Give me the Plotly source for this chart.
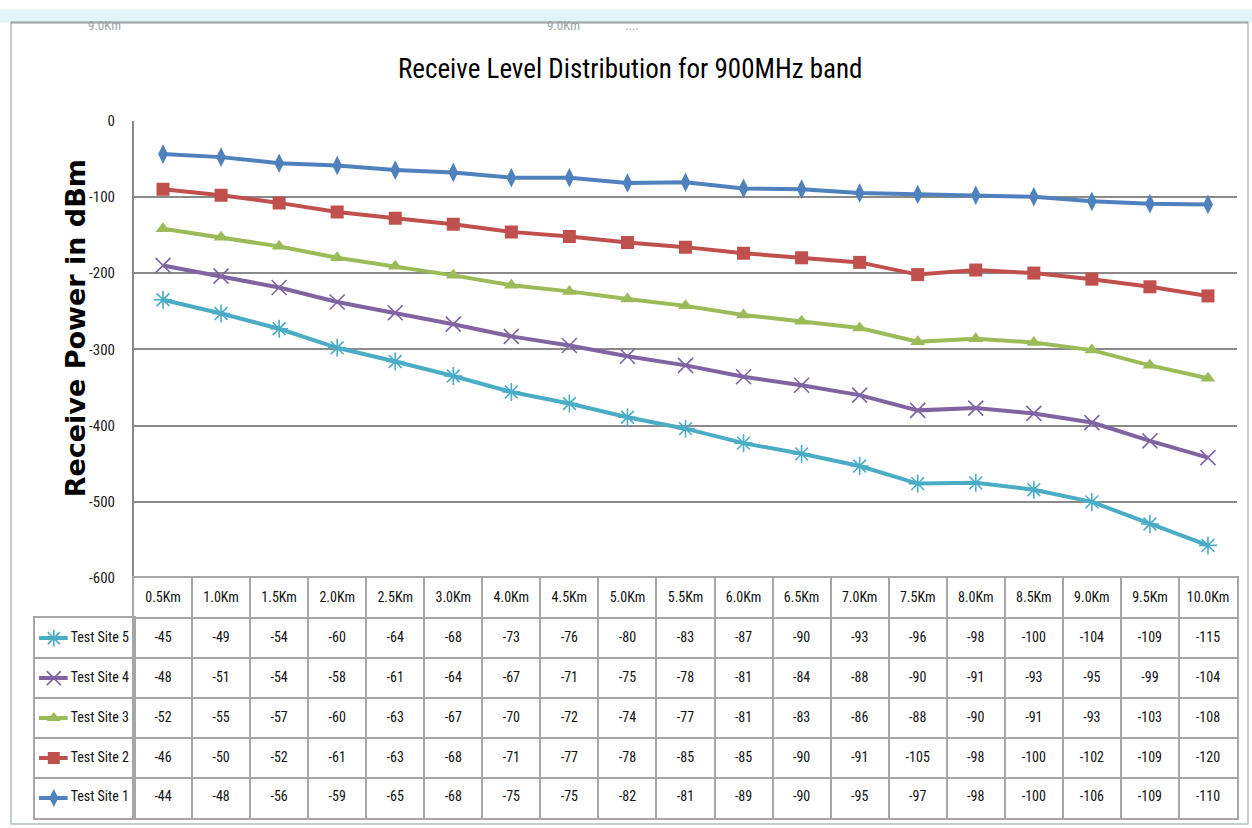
import plotly.graph_objects as go

# ---------------- data ----------------
distances = ["0.5Km", "1.0Km", "1.5Km", "2.0Km", "2.5Km", "3.0Km", "4.0Km", "4.5Km", "5.0Km",
             "5.5Km", "6.0Km", "6.5Km", "7.0Km", "7.5Km", "8.0Km", "8.5Km", "9.0Km", "9.5Km", "10.0Km"]
site1 = [-44, -48, -56, -59, -65, -68, -75, -75, -82, -81, -89, -90, -95, -97, -98, -100, -106, -109, -110]
site2 = [-46, -50, -52, -61, -63, -68, -71, -77, -78, -85, -85, -90, -91, -105, -98, -100, -102, -109, -120]
site3 = [-52, -55, -57, -60, -63, -67, -70, -72, -74, -77, -81, -83, -86, -88, -90, -91, -93, -103, -108]
site4 = [-48, -51, -54, -58, -61, -64, -67, -71, -75, -78, -81, -84, -88, -90, -91, -93, -95, -99, -104]
site5 = [-45, -49, -54, -60, -64, -68, -73, -76, -80, -83, -87, -90, -93, -96, -98, -100, -104, -109, -115]
series_names = ["Test Site 1", "Test Site 2", "Test Site 3", "Test Site 4", "Test Site 5"]
y_ticks = [0, -100, -200, -300, -400, -500, -600]

series = [site1, site2, site3, site4, site5]
colors = ["#4F81BD", "#C0504D", "#9BBB59", "#8064A2", "#4BACC6"]
symbols = ["diamond-tall", "square", "triangle-up", "x-thin-open", "asterisk-open"]
msizes = [14, 13, 13, 15, 15]

W, H = 1252, 828
px = lambda v: v / W
# vertical placement (compensates the small vertical offset/scale seen in the capture)
py = lambda v: 1 - ((v - 8.4) / 0.979) / H

FONT = "Liberation Sans Narrow, Arial Narrow, Roboto Condensed, Liberation Sans, sans-serif"
GRID = "#8a8a8a"
TGRID = "#a6a6a6"

fig = go.Figure()

# stacked lines
for name, vals, c, s, ms in zip(series_names, series, colors, symbols, msizes):
    marker = dict(symbol=s, size=ms, color=c)
    if "open" in s:
        marker["line"] = dict(color=c, width=1.6)
    fig.add_trace(go.Scatter(
        x=distances, y=vals, name=name, stackgroup="one", fill="none",
        mode="lines+markers", line=dict(color=c, width=4), marker=marker,
        xaxis="x", yaxis="y", showlegend=False))

# data table values
table_rows = series_names[::-1]
for name in table_rows:
    vals = series[series_names.index(name)]
    fig.add_trace(go.Scatter(
        x=distances, y=[name] * len(distances), text=[str(v) for v in vals],
        mode="text", textfont=dict(family=FONT, size=14, color="#111111"),
        xaxis="x3", yaxis="y3", showlegend=False, hoverinfo="skip"))
fig.add_trace(go.Scatter(
    x=distances, y=["Distance"] * len(distances), text=distances,
    mode="text", textfont=dict(family=FONT, size=14, color="#111111"),
    xaxis="x3", yaxis="y3", showlegend=False, hoverinfo="skip"))

# legend keys in table
for name, c, s, ms in zip(series_names, colors, symbols, msizes):
    fig.add_trace(go.Scatter(x=[0.04, 0.33], y=[name, name], mode="lines",
                             line=dict(color=c, width=4), xaxis="x4", yaxis="y4",
                             showlegend=False, hoverinfo="skip"))
    marker = dict(symbol=s, size=ms - 1, color=c)
    if "open" in s:
        marker["line"] = dict(color=c, width=1.6)
    fig.add_trace(go.Scatter(x=[0.19], y=[name], mode="markers", marker=marker,
                             xaxis="x4", yaxis="y4", showlegend=False, hoverinfo="skip"))
    fig.add_trace(go.Scatter(x=[0.36], y=[name], mode="text", text=[name],
                             textposition="middle right",
                             textfont=dict(family=FONT, size=14, color="#111111"),
                             xaxis="x4", yaxis="y4", showlegend=False, hoverinfo="skip"))

x0, x1 = 134, 1237
fig.update_layout(
    width=W, height=H,
    margin=dict(l=0, r=0, t=0, b=0),
    paper_bgcolor="white", plot_bgcolor="white",
    xaxis=dict(domain=[px(x0), px(x1)], anchor="y", type="category",
               categoryorder="array", categoryarray=distances,
               range=[-0.5, len(distances) - 0.5],
               showticklabels=False, showgrid=False, zeroline=False, ticks=""),
    yaxis=dict(domain=[py(578), py(120)], anchor="x", range=[-600, 0],
               tickvals=y_ticks, ticktext=[str(v) for v in y_ticks],
               showgrid=True, gridcolor=GRID, gridwidth=2, zeroline=False,
               showline=True, linecolor=GRID, linewidth=2,
               ticks="", ticklabelstandoff=14,
               tickfont=dict(family=FONT, size=15, color="#222222")),
    xaxis3=dict(domain=[px(x0), px(x1)], anchor="y3", type="category",
                categoryorder="array", categoryarray=distances,
                range=[-0.5, len(distances) - 0.5], tickson="boundaries",
                showticklabels=False, ticks="", showgrid=True, gridcolor=TGRID, gridwidth=2,
                showline=True, mirror=True, linecolor=TGRID, linewidth=2, zeroline=False),
    yaxis3=dict(domain=[py(818), py(578)], anchor="x3", type="category",
                categoryorder="array", categoryarray=series_names + ["Distance"],
                range=[-0.5, 5.5], tickson="boundaries",
                showticklabels=False, ticks="", showgrid=True, gridcolor=TGRID, gridwidth=2,
                showline=True, mirror=True, linecolor=TGRID, linewidth=2, zeroline=False),
    xaxis4=dict(domain=[px(35), px(x0)], anchor="y4", range=[0, 1],
                showticklabels=False, ticks="", showgrid=False, zeroline=False,
                showline=True, mirror=True, linecolor=TGRID, linewidth=2),
    yaxis4=dict(domain=[py(818), py(618)], anchor="x4", type="category",
                categoryorder="array", categoryarray=series_names,
                range=[-0.5, 4.5], tickson="boundaries",
                showticklabels=False, ticks="", showgrid=True, gridcolor=TGRID, gridwidth=2,
                showline=True, mirror=True, linecolor=TGRID, linewidth=2, zeroline=False),
    shapes=[
        dict(type="rect", xref="paper", yref="paper", x0=0, x1=1, y0=py(22), y1=py(9),
             fillcolor="#e2f5f6", line=dict(width=0), layer="below"),
        dict(type="rect", xref="paper", yref="paper", x0=px(11), x1=px(1248), y0=py(824), y1=py(22),
             fillcolor="rgba(0,0,0,0)", line=dict(color="#b0bcc0", width=1.5), layer="below"),
        dict(type="line", xref="paper", yref="paper", x0=px(11), x1=px(1248), y0=py(22), y1=py(22),
             line=dict(color="#a0a8aa", width=2), layer="below"),
    ],
    annotations=[
        dict(text="Receive Level Distribution for 900MHz band", x=px(630), y=py(68),
             xref="paper", yref="paper", showarrow=False, xanchor="center", yanchor="middle",
             font=dict(family=FONT, size=27, color="#000000")),
        dict(text="<b>Receive Power in dBm</b>", x=px(75), y=py(328), textangle=-90,
             xref="paper", yref="paper", showarrow=False, xanchor="center", yanchor="middle",
             font=dict(family="DejaVu Sans, Verdana, sans-serif", size=27, color="#000000")),
        dict(text="9.0Km", x=px(86), y=py(15), xref="paper", yref="paper", showarrow=False,
             font=dict(family=FONT, size=13, color="#9aa4a8")),
        dict(text="9.0Km", x=px(563), y=py(15), xref="paper", yref="paper", showarrow=False,
             font=dict(family=FONT, size=13, color="#9aa4a8")),
        dict(text="....", x=px(632), y=py(15), xref="paper", yref="paper", showarrow=False,
             font=dict(family=FONT, size=13, color="#9aa4a8")),
    ],
)

fig.write_html(
    "out.html",
    config={"displayModeBar": False},
    post_script=(
        "document.documentElement.style.margin='0';"
        "document.body.style.margin='0';document.body.style.overflow='hidden';"
        "var gd=document.getElementById('{plot_id}');"
        "gd.style.position='fixed';gd.style.top='0px';gd.style.left='0px';"
    ),
)
